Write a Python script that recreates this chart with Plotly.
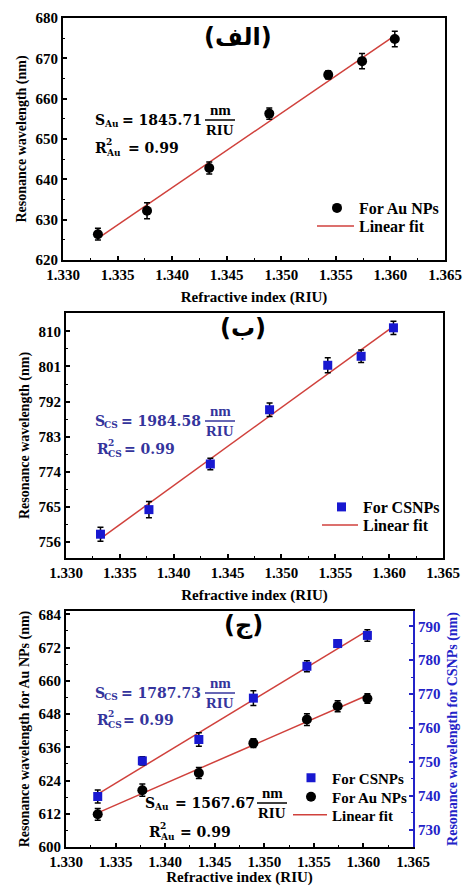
import numpy as np
import plotly.graph_objects as go

W, H = 463, 886

# ---------------- data ----------------
n_ri = [1.3332, 1.3377, 1.3434, 1.3489, 1.3543, 1.3574, 1.3604]

au_a = [626.4, 632.2, 642.8, 656.3, 665.9, 669.3, 674.8]
au_a_err = [1.45, 2.0, 1.5, 1.4, 1.0, 1.9, 1.9]

cs_b = [758.0, 764.3, 776.0, 789.9, 801.3, 803.6, 810.9]
cs_b_err = [1.8, 2.1, 1.5, 1.7, 1.9, 1.6, 1.7]

au_c = [611.8, 620.5, 626.7, 637.5, 646.0, 650.8, 653.6]
au_c_err = [2.1, 2.2, 2.0, 1.6, 2.1, 2.0, 1.7]

cs_c = [739.8, 750.3, 756.6, 768.8, 778.2, 784.9, 787.3]
cs_c_err = [1.9, 1.2, 2.0, 2.2, 1.6, 1.1, 1.7]

x_ticks = [1.330, 1.335, 1.340, 1.345, 1.350, 1.355, 1.360, 1.365]
x_labels = ["1.330", "1.335", "1.340", "1.345", "1.350", "1.355", "1.360", "1.365"]
y_ticks_a = [620, 630, 640, 650, 660, 670, 680]
y_ticks_b = [756, 765, 774, 783, 792, 801, 810]
y_ticks_c_left = [600, 612, 624, 636, 648, 660, 672, 684]
y_ticks_c_right = [730, 740, 750, 760, 770, 780, 790]

# ---------------- style ----------------
SERIF = "Liberation Serif"
MATH = "DejaVu Serif"
ARAB = "DejaVu Sans"
RED = "#d0413c"
BLUE = "#1818d0"
TBLUE = "#34349c"
AXBLUE = "#2323c8"


def px(x):
    return x / W


def py(y):
    return 1 - y / H


def fit(xv, yv):
    k, b = np.polyfit(xv, yv, 1)
    xs = [min(xv), max(xv)]
    return xs, [k * v + b for v in xs]


fig = go.Figure()

err = lambda a: dict(type="data", array=a, color="black", thickness=1.5, width=3)
fitline = dict(color=RED, width=1.5)

# Panel (a)
fx, fy = fit(n_ri, au_a)
fig.add_trace(go.Scatter(x=fx, y=fy, mode="lines", line=fitline,
                         name="Linear fit", xaxis="x", yaxis="y", legend="legend4"))
fig.add_trace(go.Scatter(x=n_ri, y=au_a, mode="markers", error_y=err(au_a_err),
                         marker=dict(symbol="circle", size=10, color="black"),
                         name="For Au NPs", xaxis="x", yaxis="y", legend="legend"))

# Panel (b)
fx, fy = fit(n_ri, cs_b)
fig.add_trace(go.Scatter(x=fx, y=fy, mode="lines", line=fitline,
                         name="Linear fit", xaxis="x2", yaxis="y2", legend="legend5"))
fig.add_trace(go.Scatter(x=n_ri, y=cs_b, mode="markers", error_y=err(cs_b_err),
                         marker=dict(symbol="square", size=9, color=BLUE),
                         name="For CSNPs", xaxis="x2", yaxis="y2", legend="legend2"))

# Panel (c)
fx, fy = fit(n_ri, cs_c)
fig.add_trace(go.Scatter(x=fx, y=fy, mode="lines", line=fitline,
                         name="Linear fit", xaxis="x3", yaxis="y4", showlegend=False))
fx, fy = fit(n_ri, au_c)
fig.add_trace(go.Scatter(x=fx, y=fy, mode="lines", line=fitline,
                         name="Linear fit", xaxis="x3", yaxis="y3", legend="legend7"))
fig.add_trace(go.Scatter(x=n_ri, y=cs_c, mode="markers", error_y=err(cs_c_err),
                         marker=dict(symbol="square", size=9, color=BLUE),
                         name="For CSNPs", xaxis="x3", yaxis="y4", legend="legend3"))
fig.add_trace(go.Scatter(x=n_ri, y=au_c, mode="markers", error_y=err(au_c_err),
                         marker=dict(symbol="circle", size=10, color="black"),
                         name="For Au NPs", xaxis="x3", yaxis="y3", legend="legend6"))

tickfont = dict(family=SERIF, size=15, color="black", weight="bold")
titlefont = dict(family=SERIF, size=14, color="black", weight="bold")


def xaxis(dom, anchor, standoff):
    return dict(domain=dom, anchor=anchor, range=[1.330, 1.365], tickvals=x_ticks,
                ticktext=x_labels, ticks="inside", ticklen=4, tickwidth=1.5, tickcolor="black",
                minor=dict(ticks="inside", ticklen=2, dtick=0.0025, tickcolor="black", tickwidth=1),
                showline=True, linewidth=2, linecolor="black", mirror=True,
                showgrid=False, zeroline=False, tickfont=tickfont, automargin=False,
                ticklabeloverflow="allow",
                title=dict(text="Refractive index (RIU)", font=dict(family=SERIF, size=15,
                                                                  color="black", weight="bold"),
                           standoff=standoff))


def yaxis(dom, anchor, rng, tv, title, minor_dt, mirror=True, standoff=6):
    return dict(domain=dom, anchor=anchor, range=rng, tickvals=tv,
                ticks="inside", ticklen=4, tickwidth=1.5, tickcolor="black",
                minor=dict(ticks="inside", ticklen=2, dtick=minor_dt, tickcolor="black", tickwidth=1),
                showline=True, linewidth=2, linecolor="black", mirror=mirror,
                showgrid=False, zeroline=False, tickfont=tickfont, automargin=False,
                ticklabeloverflow="allow",
                title=dict(text=title, font=titlefont, standoff=standoff))


xa = xaxis([px(63), px(445)], "y", 9)
xb = xaxis([px(66), px(443)], "y2", 9)
xc = xaxis([px(66), px(413)], "y3", 9)
ya = yaxis([py(260), py(18)], "x", [620, 680], y_ticks_a, "Resonance wavelength (nm)", 5)
yb = yaxis([py(558), py(313)], "x2", [751.9, 814.7], y_ticks_b, "Resonance wavelength (nm)", 4.5)
yc = yaxis([py(847), py(611)], "x3", [600, 685.2], y_ticks_c_left,
           "Resonance wavelength for Au NPs (nm)", 6, mirror=False)
yd = dict(overlaying="y3", side="right", anchor="x3", range=[724.9, 794.5],
          tickvals=y_ticks_c_right, ticks="inside", ticklen=4, tickwidth=1.5, tickcolor=AXBLUE,
          minor=dict(ticks="inside", ticklen=2, dtick=5, tickcolor=AXBLUE, tickwidth=1),
          showline=True, linewidth=2, linecolor=AXBLUE, showgrid=False, zeroline=False,
          tickfont=dict(family=SERIF, size=15, color=AXBLUE, weight="bold"), automargin=False,
          ticklabeloverflow="allow",
          title=dict(text="Resonance wavelength for CSNPs (nm)",
                     font=dict(family=SERIF, size=14, color=AXBLUE, weight="bold"), standoff=8))


def leg(lx, yc, iw, size=16):
    return dict(x=px(lx), y=py(yc), xanchor="left", yanchor="middle", bgcolor="rgba(0,0,0,0)",
                font=dict(family=SERIF, size=size, color="black", weight="bold"),
                itemwidth=max(30, iw), borderwidth=0)


annotations = []
shapes = []


def txt(x, y, s, size=14, color="black", font=MATH, xanchor="left", weight="bold"):
    annotations.append(dict(x=px(x), y=py(y), xref="paper", yref="paper", text=s, showarrow=False,
                            xanchor=xanchor, yanchor="middle",
                            font=dict(family=font, size=size, color=color, weight=weight)))


def formula(x0, yc, sub, eq_x, value, fcx, color):
    txt(x0, yc, "S", 14, color)
    txt(x0 + 9, yc + 4, sub, 9, color)
    txt(eq_x, yc, "= " + value, 14, color)
    txt(fcx, yc - 10, "nm", 15, color, SERIF, "center")
    txt(fcx, yc + 10, "RIU", 15, color, SERIF, "center")
    shapes.append(dict(type="line", xref="paper", yref="paper", x0=px(fcx - 15), x1=px(fcx + 15),
                       y0=py(yc), y1=py(yc), line=dict(color=color, width=1.5)))


def rsq(x0, yc, sub, color, gap):
    txt(x0, yc, "R", 14, color)
    txt(x0 + 11, yc - 6, "2", 9, color)
    txt(x0 + 11, yc + 5, sub, 9, color)
    txt(x0 + gap, yc, "= 0.99", 14, color)


# Panel labels (Arabic)
txt(238, 37, "(الف)", 24, "black", ARAB, "center")
txt(243, 328, "(ب)", 24, "black", ARAB, "center")
txt(243, 625, "(ج)", 24, "black", ARAB, "center")

formula(93, 120, "Au", 120, "1845.71", 220, "black")
rsq(93, 148, "Au", "black", 33)
formula(93, 421, "CS", 119, "1984.58", 220, TBLUE)
rsq(95, 449, "CS", TBLUE, 27)
formula(93, 693, "CS", 119, "1787.73", 220, TBLUE)
rsq(95, 720, "CS", TBLUE, 26)
formula(143, 803, "Au", 173, "1567.67", 272, "black")
rsq(147, 832, "Au", "black", 31)

fig.update_layout(
    width=W, height=H, margin=dict(l=0, r=0, t=0, b=0),
    paper_bgcolor="white", plot_bgcolor="white",
    xaxis=xa, xaxis2=xb, xaxis3=xc, yaxis=ya, yaxis2=yb, yaxis3=yc, yaxis4=yd,
    legend=leg(315, 208, 34), legend4=leg(312, 226, 37),
    legend2=leg(320, 507, 33), legend5=leg(317, 525, 36),
    legend3=leg(290, 778, 32, 15), legend6=leg(290, 797, 32, 15), legend7=leg(288, 815, 34, 15),
    annotations=annotations, shapes=shapes,
)

fig.write_html("out.html", config={"displayModeBar": False},
               post_script="document.body.style.margin='0px';")
